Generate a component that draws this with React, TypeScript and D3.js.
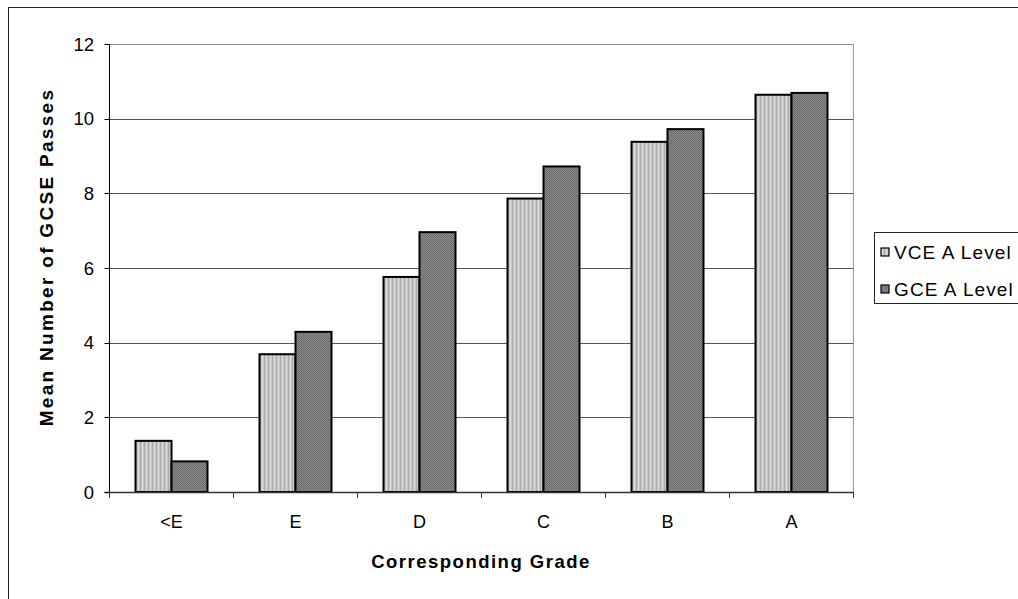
import React from "react";
import * as d3 from "d3";

const categories = ["<E", "E", "D", "C", "B", "A"];
const seriesNames = ["VCE A Level", "GCE A Level"];
const vceValues = [1.37, 3.69, 5.76, 7.86, 9.38, 10.64];
const gceValues = [0.82, 4.29, 6.96, 8.72, 9.72, 10.69];
const yTicks = [0, 2, 4, 6, 8, 10, 12];

const W = 1018;
const H = 599;
const FONT = "'Liberation Sans', Arial, sans-serif";

export default function App() {
  const plotLeft = 109.5;
  const plotRight = 853.5;
  const plotTop = 44;
  const plotBottom = 492;

  const y = d3.scaleLinear().domain([0, 12]).range([plotBottom, plotTop]);
  const x0 = d3.scaleBand<string>().domain(categories).range([plotLeft, plotRight]).padding(0);
  const groupW = 72;
  const x1 = d3.scaleBand<string>().domain(seriesNames).range([0, groupW]).padding(0);
  const offset = (x0.bandwidth() - groupW) / 2;
  const seriesData = [vceValues, gceValues];
  const fills = ["url(#patVce)", "url(#patGce)"];

  const boundaries = categories.map((c) => x0(c) as number).concat([plotRight]);

  return (
    <svg
      width={W}
      height={H}
      style={{ position: "absolute", left: 0, top: 0, background: "#fff" }}
      fontFamily={FONT}
    >
      <defs>
        <pattern id="patVce" width="4" height="4" patternUnits="userSpaceOnUse">
          <rect width="4" height="4" fill="#c8c8c8" />
          <rect x="0" width="1" height="4" fill="#a9a9a9" />
          <rect x="2" width="1" height="4" fill="#dadada" />
        </pattern>
        <pattern id="patGce" width="2" height="2" patternUnits="userSpaceOnUse">
          <rect width="2" height="2" fill="#8c8c8c" />
          <rect x="0" y="0" width="1" height="1" fill="#6a6a6a" />
          <rect x="1" y="1" width="1" height="1" fill="#6a6a6a" />
        </pattern>
      </defs>
      <rect x={8.5} y={7.5} width={W + 20} height={H + 20} fill="#fff" stroke="#222" strokeWidth={1} />

      {/* gridlines */}
      {yTicks.filter((t) => t > 0).map((t) => (
        <line key={"g" + t} x1={plotLeft} x2={plotRight} y1={Math.round(y(t)) + 0.5} y2={Math.round(y(t)) + 0.5}
          stroke={t === 12 ? "#888" : "#555"} strokeWidth={1} />
      ))}
      {/* plot right border */}
      <line x1={plotRight} x2={plotRight} y1={plotTop} y2={plotBottom} stroke="#999" strokeWidth={1} />

      {/* bars */}
      {seriesData.map((vals, si) =>
        vals.map((v, i) => {
          const bx = (x0(categories[i]) as number) + offset + (x1(seriesNames[si]) as number);
          return (
            <rect key={si + "-" + i} x={bx} y={y(v)} width={x1.bandwidth()} height={plotBottom - y(v)}
              fill={fills[si]} stroke="#000" strokeWidth={2} />
          );
        })
      )}

      {/* axes */}
      <line x1={plotLeft} x2={plotLeft} y1={plotTop} y2={plotBottom} stroke="#000" strokeWidth={1} />
      <line x1={plotLeft - 5} x2={plotRight} y1={plotBottom + 0.5} y2={plotBottom + 0.5} stroke="#333" strokeWidth={1.5} />
      {yTicks.map((t) => (
        <g key={"t" + t}>
          <line x1={plotLeft - 5} x2={plotLeft} y1={Math.round(y(t)) + 0.5} y2={Math.round(y(t)) + 0.5} stroke="#000" />
          <text x={94} y={y(t) + 6.5} textAnchor="end" fontSize={18.5} fill="#000">{t}</text>
        </g>
      ))}
      {boundaries.map((bx, i) => (
        <line key={"xt" + i} x1={bx} x2={bx} y1={plotBottom} y2={plotBottom + 6} stroke="#333" />
      ))}
      {categories.map((c) => (
        <text key={"xl" + c} x={(x0(c) as number) + x0.bandwidth() / 2} y={528} textAnchor="middle" fontSize={18} fill="#000">{c}</text>
      ))}

      <text x={481} y={568} textAnchor="middle" fontSize={18.5} fontWeight="bold" letterSpacing={1.5} fill="#000">
        Corresponding Grade
      </text>
      <text transform="translate(53,257) rotate(-90)" textAnchor="middle" fontSize={19} fontWeight="bold" letterSpacing={2.3} fill="#000">
        Mean Number of GCSE Passes
      </text>

      {/* legend */}
      <rect x={874.5} y={232.5} width={200} height={71} fill="#fff" stroke="#222" strokeWidth={1} />
      {seriesNames.map((s, i) => {
        const cy = 252 + i * 37;
        return (
          <g key={"lg" + s}>
            <rect x={881} y={cy - 4} width={8} height={8} fill={fills[i]} stroke="#000" strokeWidth={1.2} />
            <text x={894} y={cy + 7} fontSize={19} letterSpacing={1.1} fill="#000">{s}</text>
          </g>
        );
      })}
    </svg>
  );
}
